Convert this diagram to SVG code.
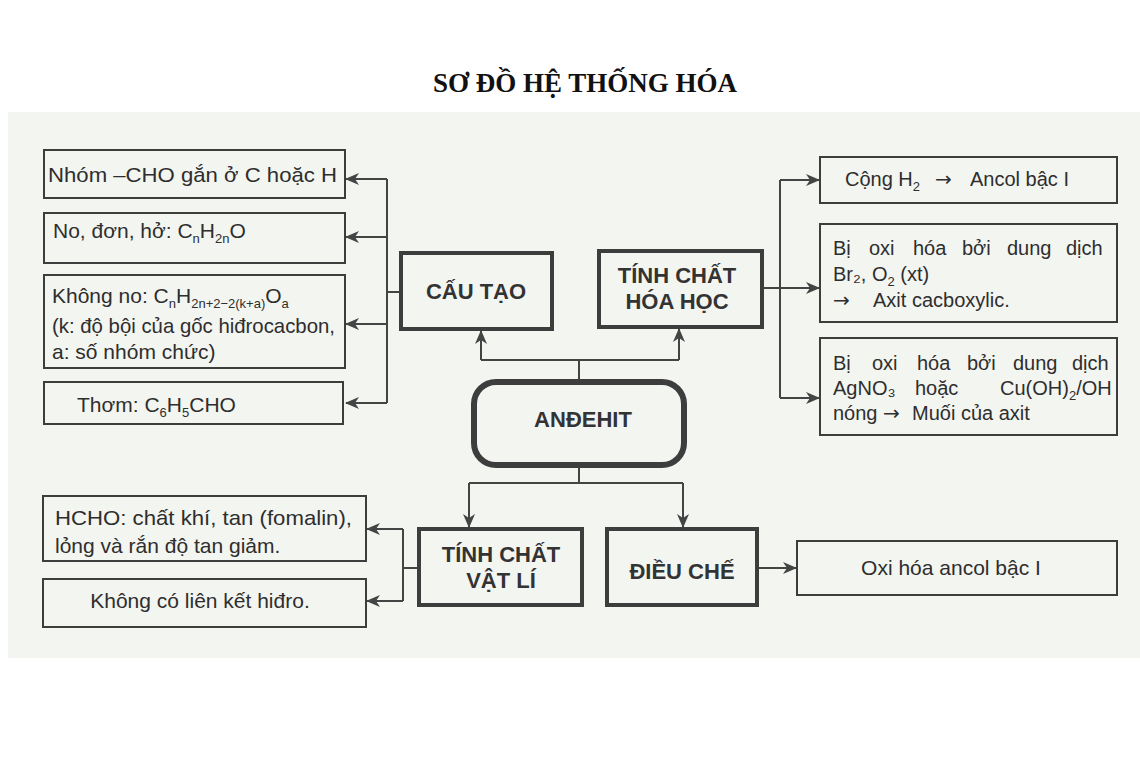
<svg xmlns="http://www.w3.org/2000/svg" width="1140" height="760" viewBox="0 0 1140 760">
<style>
.bg{fill:#f3f5f1}
.box{fill:none;stroke:#3d3d3d;stroke-width:2}
.hbox{fill:none;stroke:#3d3d3d;stroke-width:4}
.main{fill:none;stroke:#3d3d3d;stroke-width:6}
.t{font-family:"Liberation Sans",Arial,sans-serif;font-size:21px;fill:#2e2e2e}
.r{font-size:20px}
.s{font-size:13px}
.arw{font-family:"DejaVu Sans",sans-serif;font-size:20px}
.b{font-family:"Liberation Sans",Arial,sans-serif;font-size:22px;font-weight:bold;fill:#333;text-anchor:middle}
.title{font-family:"Liberation Serif","Times New Roman",serif;font-size:27px;font-weight:bold;fill:#111;text-anchor:middle}
.ln{fill:none;stroke:#444;stroke-width:2}
.ar{fill:none;stroke:#444;stroke-width:2;marker-end:url(#ah)}
</style>
<defs>
<marker id="ah" viewBox="0 0 14 12" refX="13" refY="6" markerWidth="14" markerHeight="12" markerUnits="userSpaceOnUse" orient="auto">
<path d="M0,0 L14,6 L0,12 L4,6 z" fill="#444"/>
</marker>
</defs>
<rect width="1140" height="760" fill="#ffffff"/>
<rect class="bg" x="8" y="112" width="1132" height="546"/>
<text class="title" x="585" y="92">SƠ ĐỒ HỆ THỐNG HÓA</text>

<g id="connectors">
<path class="ln" d="M401,292 H387 M387,179 V403"/>
<path class="ar" d="M387,179 H346"/>
<path class="ar" d="M387,237 H346"/>
<path class="ar" d="M387,324 H346"/>
<path class="ar" d="M387,403 H346"/>
<path class="ln" d="M579,382 V360 M481,360 H679"/>
<path class="ar" d="M481,360 V331"/>
<path class="ar" d="M679,360 V329"/>
<path class="ln" d="M579,465 V483 M469,483 H683"/>
<path class="ar" d="M469,483 V527"/>
<path class="ar" d="M683,483 V527"/>
<path class="ln" d="M762,288 H780 M780,180 V398"/>
<path class="ar" d="M780,180 H819"/>
<path class="ar" d="M780,288 H819"/>
<path class="ar" d="M780,398 H819"/>
<path class="ln" d="M419,568 H403 M403,529 V601"/>
<path class="ar" d="M403,529 H367"/>
<path class="ar" d="M403,601 H367"/>
<path class="ar" d="M757,568 H796"/>
</g>

<g id="n-nhom">
<rect class="box" x="44" y="150" width="301" height="48"/>
<text class="t" x="48" y="182" textLength="289" lengthAdjust="spacingAndGlyphs">Nhóm –CHO gắn ở C hoặc H</text>
</g>
<g id="n-no">
<rect class="box" x="44" y="213" width="301" height="50"/>
<text class="t" x="53" y="238">No, đơn, hở: C<tspan class="s" dy="5">n</tspan><tspan dy="-5">H</tspan><tspan class="s" dy="5">2n</tspan><tspan dy="-5">O</tspan></text>
</g>
<g id="n-khongno">
<rect class="box" x="44" y="275" width="301" height="93"/>
<text class="t" x="52" y="303">Không no: C<tspan class="s" dy="5">n</tspan><tspan dy="-5">H</tspan><tspan class="s" dy="5">2n+2−2(k+a)</tspan><tspan dy="-5">O</tspan><tspan class="s" dy="5">a</tspan></text>
<text class="t" x="52" y="333" textLength="283" lengthAdjust="spacingAndGlyphs">(k: độ bội của gốc hiđrocacbon,</text>
<text class="t" x="52" y="359">a: số nhóm chức)</text>
</g>
<g id="n-thom">
<rect class="box" x="44" y="382" width="299" height="42"/>
<text class="t" x="77" y="412">Thơm: C<tspan class="s" dy="5">6</tspan><tspan dy="-5">H</tspan><tspan class="s" dy="5">5</tspan><tspan dy="-5">CHO</tspan></text>
</g>
<g id="n-cautao">
<rect class="hbox" x="401" y="253" width="151" height="76"/>
<text class="b" x="476" y="299">CẤU TẠO</text>
</g>
<g id="n-hoahoc">
<rect class="hbox" x="599" y="251" width="163" height="76"/>
<text class="b" x="677" y="283">TÍNH CHẤT</text>
<text class="b" x="677" y="309">HÓA HỌC</text>
</g>
<g id="n-andehit">
<rect class="main" x="474" y="382" width="210" height="83" rx="22" ry="22"/>
<text class="b" x="583" y="427">ANĐEHIT</text>
</g>
<g id="n-vatli">
<rect class="hbox" x="419" y="529" width="163" height="76"/>
<text class="b" x="501" y="562">TÍNH CHẤT</text>
<text class="b" x="501" y="588">VẬT LÍ</text>
</g>
<g id="n-dieuche">
<rect class="hbox" x="607" y="529" width="150" height="76"/>
<text class="b" x="682" y="579">ĐIỀU CHẾ</text>
</g>
<g id="n-hcho">
<rect class="box" x="43" y="496" width="323" height="65"/>
<text class="t" x="55" y="525" textLength="297" lengthAdjust="spacingAndGlyphs">HCHO: chất khí, tan (fomalin),</text>
<text class="t" x="55" y="553">lỏng và rắn độ tan giảm.</text>
</g>
<g id="n-lienket">
<rect class="box" x="43" y="579" width="323" height="48"/>
<text class="t" x="200" y="608" text-anchor="middle">Không có liên kết hiđro.</text>
</g>
<g id="n-cong">
<rect class="box" x="820" y="157" width="297" height="46"/>
<text class="t r" y="186"><tspan x="845">Cộng H</tspan><tspan class="s" dy="5">2</tspan><tspan class="arw" x="935" dy="-5">→</tspan><tspan x="970">Ancol bậc I</tspan></text>
</g>
<g id="n-br">
<rect class="box" x="820" y="224" width="297" height="98"/>
<text class="t r" y="255"><tspan x="833">Bị</tspan><tspan x="869">oxi</tspan><tspan x="913">hóa</tspan><tspan x="962">bởi</tspan><tspan x="1007">dung</tspan><tspan x="1066">dịch</tspan></text>
<text class="t r" x="833" y="281">Br₂, O<tspan class="s" dy="5">2</tspan><tspan dy="-5"> (xt)</tspan></text>
<text class="t r" y="307"><tspan class="arw" x="833">→</tspan><tspan x="873">Axit cacboxylic.</tspan></text>
</g>
<g id="n-agno3">
<rect class="box" x="820" y="338" width="297" height="97"/>
<text class="t r" y="370"><tspan x="833">Bị</tspan><tspan x="872">oxi</tspan><tspan x="917">hóa</tspan><tspan x="967">bởi</tspan><tspan x="1013">dung</tspan><tspan x="1072">dịch</tspan></text>
<text class="t r" x="833" y="395">AgNO₃</text>
<text class="t r" x="915" y="395">hoặc</text>
<text class="t r" x="1000" y="395">Cu(OH)<tspan class="s" dy="5">2</tspan><tspan dy="-5">/OH</tspan></text>
<text class="t r" y="420"><tspan x="833">nóng</tspan><tspan class="arw" x="883">→</tspan><tspan x="912">Muối của axit</tspan></text>
</g>
<g id="n-oxihoa">
<rect class="box" x="797" y="541" width="320" height="54"/>
<text class="t" x="951" y="575" text-anchor="middle">Oxi hóa ancol bậc I</text>
</g>
</svg>
